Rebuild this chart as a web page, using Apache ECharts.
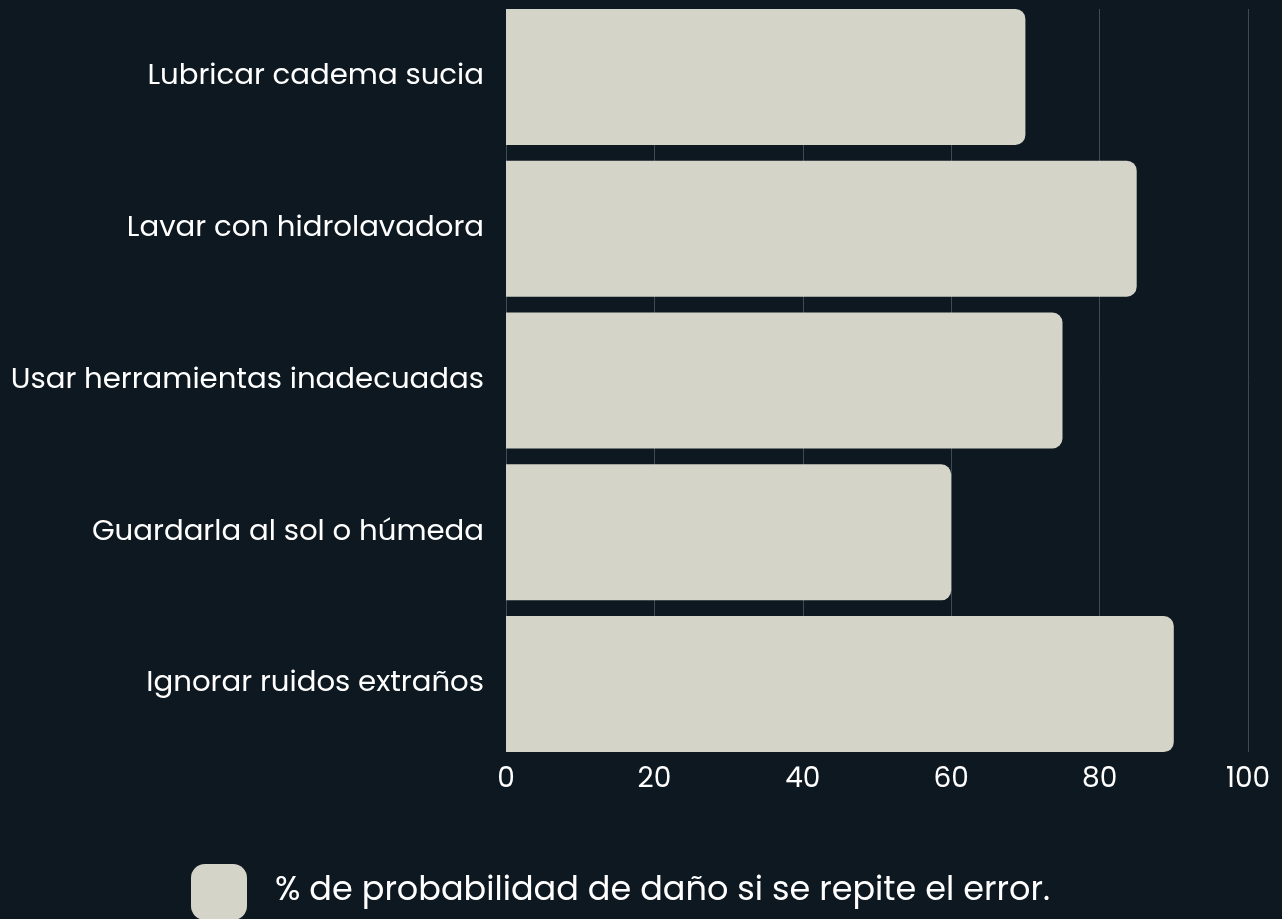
<!DOCTYPE html>
<html lang="es">
<head>
  <meta charset="UTF-8">
  <title>Errores de mantenimiento</title>
  <script src="https://cdn.jsdelivr.net/npm/echarts@6/dist/echarts.min.js"></script>
  <style>
    html, body { margin: 0; padding: 0; background: #0d1821; }
  </style>
</head>
<body>
  <div id="main" style="width:1282px;height:919px;"></div>
  <script type="text/javascript">
    // datos
    var categorias = ['Lubricar cadema sucia', 'Lavar con hidrolavadora', 'Usar herramientas inadecuadas', 'Guardarla al sol o húmeda', 'Ignorar ruidos extraños'];
    var probabilidad = [70, 85, 75, 60, 90];
    var serieNombre = '% de probabilidad de daño si se repite el error.';
    var ticksX = [0, 20, 40, 60, 80, 100];

    var fuente = 'Poppins, Inter, "Noto Sans", sans-serif';
    var myChart = echarts.init(document.getElementById('main'));

    var option = {
      backgroundColor: '#0d1821',
      textStyle: { fontFamily: fuente },
      legend: {
        data: [serieNombre],
        left: 191,
        top: 864,
        padding: 0,
        icon: 'roundRect',
        itemWidth: 56,
        itemHeight: 56,
        itemGap: 0,
        textStyle: { color: '#ffffff', fontSize: 33.5, fontFamily: fuente, padding: [0, 0, 0, 23] }
      },
      grid: [
        // rejilla y etiquetas del eje x
        { left: 506, right: 34, top: 9, height: 743 },
        // barras
        { left: 506, right: 34, top: 1, height: 759 }
      ],
      xAxis: [
        {
          gridIndex: 0, type: 'value', min: ticksX[0], max: ticksX[ticksX.length - 1], interval: 20,
          axisLine: { show: false }, axisTick: { show: false },
          axisLabel: { color: '#ffffff', fontSize: 28, margin: 14, fontFamily: fuente },
          splitLine: { show: true, lineStyle: { color: '#3e4a55', width: 1 } }
        },
        {
          gridIndex: 1, type: 'value', min: 0, max: 100, show: false,
          splitLine: { show: false }
        }
      ],
      yAxis: [
        {
          gridIndex: 0, type: 'category', data: categorias, inverse: true, show: false
        },
        {
          gridIndex: 1, type: 'category', data: categorias, inverse: true,
          axisLine: { show: false }, axisTick: { show: false },
          axisLabel: { color: '#ffffff', fontSize: 29.2, margin: 22, fontFamily: fuente }
        }
      ],
      series: [{
        name: serieNombre,
        type: 'bar',
        xAxisIndex: 1,
        yAxisIndex: 1,
        data: probabilidad,
        barCategoryGap: '10.4%',
        itemStyle: { color: '#d4d4c8', borderRadius: [0, 10, 10, 0] },
        emphasis: { disabled: true }
      }],
      animation: false
    };

    myChart.setOption(option);
  </script>
</body>
</html>
